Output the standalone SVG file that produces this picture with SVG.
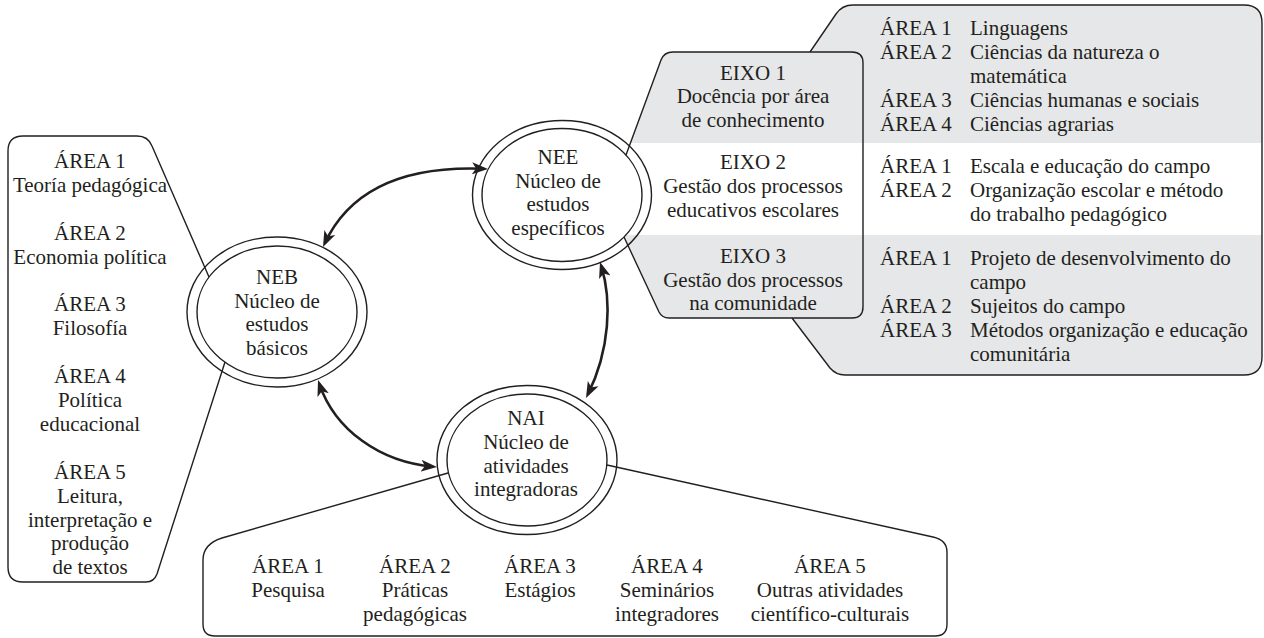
<svg xmlns="http://www.w3.org/2000/svg" width="1264" height="638" viewBox="0 0 1264 638">
  <defs>
    <linearGradient id="bands" gradientUnits="userSpaceOnUse" x1="0" y1="0" x2="0" y2="638">
      <stop offset="0" stop-color="#e6e7e8"/>
      <stop offset="0.2241" stop-color="#e6e7e8"/>
      <stop offset="0.2241" stop-color="#ffffff"/>
      <stop offset="0.3683" stop-color="#ffffff"/>
      <stop offset="0.3683" stop-color="#e6e7e8"/>
      <stop offset="1" stop-color="#e6e7e8"/>
    </linearGradient>
    <marker id="arrow" markerUnits="userSpaceOnUse" markerWidth="17" markerHeight="13" refX="12" refY="6.5" orient="auto-start-reverse" viewBox="0 0 17 13">
      <path d="M0,0.5 L16,6.5 L0,12.5 L4,6.5 Z" fill="#231f20"/>
    </marker>
  </defs>
  <style>
    text { font-family: "Liberation Serif", "Times New Roman", serif; font-size: 21px; fill: #231f20; }
    .c { text-anchor: middle; }
    .outline { fill: none; stroke: #231f20; stroke-width: 1.4; stroke-linejoin: round; }
    .outer { fill: none; stroke: #231f20; stroke-width: 1.4; }
    .inner { fill: #ffffff; stroke: #231f20; stroke-width: 1.4; }
    .conn { fill: none; stroke: #231f20; stroke-width: 2.6; marker-start: url(#arrow); marker-end: url(#arrow); }
  </style>
  <rect x="0" y="0" width="1264" height="638" fill="#ffffff"/>

  <!-- Right panel: áreas of the eixos -->
  <g id="nee-areas">
    <path d="M810,52 L836,14 Q842,5 853,5 L1244,5 Q1262,5 1262,23 L1262,357 Q1262,375 1244,375 L845,375 Q836,375 830,368 L792,318 Z" fill="url(#bands)"/>
    <path class="outline" d="M810,52 L836,14 Q842,5 853,5 L1244,5 Q1262,5 1262,23 L1262,357 Q1262,375 1244,375 L845,375 Q836,375 830,368 L792,318"/>
    <text x="880" y="35">ÁREA 1</text><text x="970" y="35">Linguagens</text>
    <text x="880" y="59">ÁREA 2</text><text x="970" y="59">Ciências da natureza o</text>
    <text x="970" y="83">matemática</text>
    <text x="880" y="107">ÁREA 3</text><text x="970" y="107">Ciências humanas e sociais</text>
    <text x="880" y="131">ÁREA 4</text><text x="970" y="131">Ciências agrarias</text>
    <text x="880" y="173">ÁREA 1</text><text x="970" y="173">Escala e educação do campo</text>
    <text x="880" y="197">ÁREA 2</text><text x="970" y="197">Organização escolar e método</text>
    <text x="970" y="221">do trabalho pedagógico</text>
    <text x="880" y="265">ÁREA 1</text><text x="970" y="265">Projeto de desenvolvimento do</text>
    <text x="970" y="289">campo</text>
    <text x="880" y="313">ÁREA 2</text><text x="970" y="313">Sujeitos do campo</text>
    <text x="880" y="337">ÁREA 3</text><text x="970" y="337">Métodos organização e educação</text>
    <text x="970" y="361">comunitária</text>
  </g>

  <!-- EIXO panel -->
  <g id="nee-eixos">
    <path d="M626,155 L661,60 Q664,52 673,52 L852,52 Q863,52 863,63 L863,307 Q863,318 852,318 L669,318 Q662,318 659,312 L624,237 Z" fill="url(#bands)"/>
    <path class="outline" d="M626,155 L661,60 Q664,52 673,52 L852,52 Q863,52 863,63 L863,307 Q863,318 852,318 L669,318 Q662,318 659,312 L624,237"/>
    <text class="c" x="753" y="80">EIXO 1</text>
    <text class="c" x="753" y="103">Docência por área</text>
    <text class="c" x="753" y="127">de conhecimento</text>
    <text class="c" x="753" y="169">EIXO 2</text>
    <text class="c" x="753" y="193">Gestão dos processos</text>
    <text class="c" x="753" y="217">educativos escolares</text>
    <text class="c" x="753" y="263">EIXO 3</text>
    <text class="c" x="753" y="287">Gestão dos processos</text>
    <text class="c" x="753" y="310">na comunidade</text>
  </g>

  <!-- Left panel: áreas of NEB -->
  <g id="neb-areas">
    <path class="outline" d="M209,277 L152,146 Q148,136 137,136 L23,136 Q8,136 8,151 L8,567 Q8,582 23,582 L146,582 Q154,582 157,574 L225,362"/>
    <text class="c" x="90" y="168">ÁREA 1</text>
    <text class="c" x="90" y="192">Teoría pedagógica</text>
    <text class="c" x="90" y="240">ÁREA 2</text>
    <text class="c" x="90" y="264">Economia política</text>
    <text class="c" x="90" y="311">ÁREA 3</text>
    <text class="c" x="90" y="335">Filosofía</text>
    <text class="c" x="90" y="383">ÁREA 4</text>
    <text class="c" x="90" y="407">Política</text>
    <text class="c" x="90" y="431">educacional</text>
    <text class="c" x="90" y="479">ÁREA 5</text>
    <text class="c" x="90" y="503">Leitura,</text>
    <text class="c" x="90" y="527">interpretação e</text>
    <text class="c" x="90" y="550">produção</text>
    <text class="c" x="90" y="574">de textos</text>
  </g>

  <!-- Bottom panel: áreas of NAI -->
  <g id="nai-areas">
    <path class="outline" d="M448,473 L222,538 Q203,544 203,560 L203,624 Q203,636 215,636 L935,636 Q947,636 947,624 L947,552 Q947,540 933,537 L607,465"/>
    <text class="c" x="288" y="573">ÁREA 1</text>
    <text class="c" x="288" y="597">Pesquisa</text>
    <text class="c" x="415" y="573">ÁREA 2</text>
    <text class="c" x="415" y="597">Práticas</text>
    <text class="c" x="415" y="621">pedagógicas</text>
    <text class="c" x="540" y="573">ÁREA 3</text>
    <text class="c" x="540" y="597">Estágios</text>
    <text class="c" x="667" y="573">ÁREA 4</text>
    <text class="c" x="667" y="597">Seminários</text>
    <text class="c" x="667" y="621">integradores</text>
    <text class="c" x="830" y="573">ÁREA 5</text>
    <text class="c" x="830" y="597">Outras atividades</text>
    <text class="c" x="830" y="621">científico-culturais</text>
  </g>

  <!-- NEB -->
  <g id="neb">
    <ellipse class="outer" cx="277" cy="312" rx="90" ry="75"/>
    <ellipse class="inner" cx="277" cy="312" rx="80" ry="66"/>
    <text class="c" x="277" y="284">NEB</text>
    <text class="c" x="277" y="308">Núcleo de</text>
    <text class="c" x="277" y="331">estudos</text>
    <text class="c" x="277" y="355">básicos</text>
  </g>

  <!-- NEE -->
  <g id="nee">
    <ellipse class="outer" cx="562" cy="195" rx="89.5" ry="74.5"/>
    <ellipse class="inner" cx="562" cy="195" rx="80" ry="66.5"/>
    <text class="c" x="558" y="164">NEE</text>
    <text class="c" x="558" y="188">Núcleo de</text>
    <text class="c" x="558" y="211">estudos</text>
    <text class="c" x="558" y="235">específicos</text>
  </g>

  <!-- NAI -->
  <g id="nai">
    <ellipse class="outer" cx="527" cy="460" rx="90" ry="74.5"/>
    <ellipse class="inner" cx="527" cy="460" rx="80" ry="66"/>
    <text class="c" x="526" y="425">NAI</text>
    <text class="c" x="526" y="449">Núcleo de</text>
    <text class="c" x="526" y="473">atividades</text>
    <text class="c" x="526" y="496">integradoras</text>
  </g>

  <!-- Connectors -->
  <g id="connectors">
    <path class="conn" d="M324.7,243.4 C345,200 390,165 484,168.8"/>
    <path class="conn" d="M601.2,265.8 C612,300 610,350 587.8,394.4"/>
    <path class="conn" d="M319.3,383.8 C335,430 380,462 433,466.7"/>
  </g>
</svg>
